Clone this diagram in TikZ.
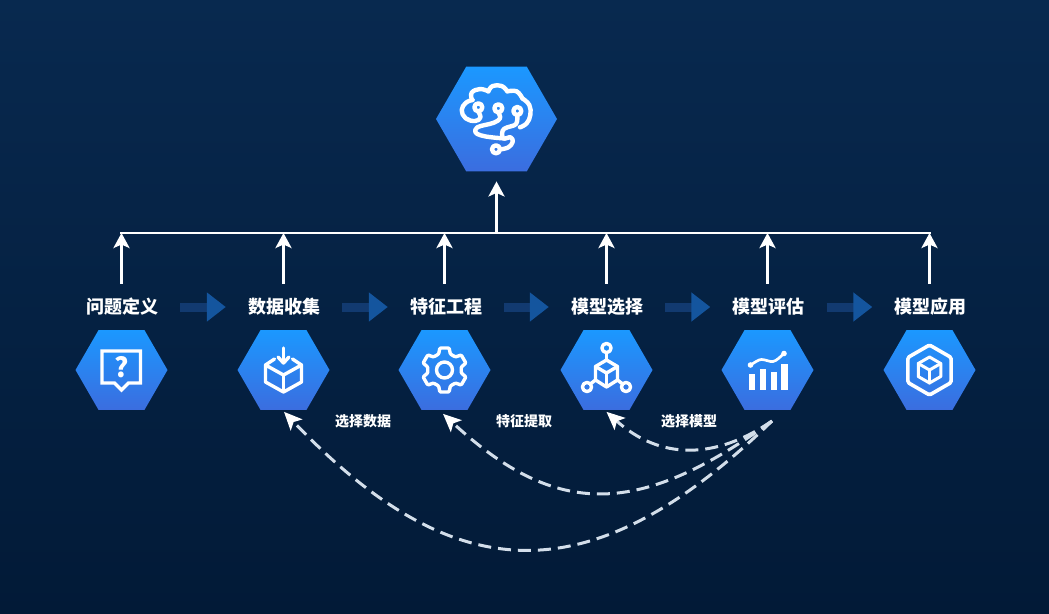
\documentclass[tikz,border=0pt]{standalone}
\usepackage{fontspec}
\usetikzlibrary{shapes.geometric,arrows.meta}
\newfontfamily\cjk{Noto Sans CJK SC}
\definecolor{bgtop}{HTML}{08294F}
\definecolor{bgbot}{HTML}{021A37}
\definecolor{hextop}{HTML}{1B98FF}
\definecolor{hexbot}{HTML}{3B6DDF}
\definecolor{shaft}{HTML}{123A70}
\definecolor{blockhead}{HTML}{14559E}
\definecolor{dashc}{HTML}{D3DEEA}
\tikzset{
  x=1pt,y=-1pt,
  hexnode/.style={regular polygon,regular polygon sides=6,inner sep=0pt,outer sep=0pt,top color=hextop,bottom color=hexbot,draw=none,minimum size=#1},
  steplabel/.style={text=white,font=\cjk\bfseries\fontsize{18}{20}\selectfont,inner sep=0pt,minimum height=46pt},
  smalllabel/.style={text=white,font=\cjk\bfseries\fontsize{14}{16}\selectfont,inner sep=0pt},
  whiteline/.style={draw=white,line width=3pt},
  busline/.style={draw=white,line width=2.2pt},
  uparrow/.style={whiteline,-{Stealth[length=15pt,width=16pt,inset=3.5pt]}},
  blockarrow/.style={draw=shaft,line width=9pt,shorten <=22pt,shorten >=22pt,-{Triangle[length=19pt,width=28pt,color=blockhead]}},
  feedback/.style={draw=dashc,line width=3pt,dash pattern=on 13pt off 7pt,-{Stealth[length=18pt,width=16pt,inset=4pt,color=white]}},
  icon/.style={draw=white,line width=3.4pt,line join=round,line cap=round},
  brain/.style={draw=white,line width=4.4pt,line join=round,line cap=round},
}
\begin{document}
\begin{tikzpicture}
\useasboundingbox (0,0) rectangle (1049,613);
\shade[top color=bgtop,bottom color=bgbot] (0,0) rectangle (1049,613);
% hexagons
\node[hexnode=121] (h0) at (496.5,119) {};
\node[hexnode=92] (h1) at (121.5,370) {};
\node[hexnode=92] (h2) at (283.5,370) {};
\node[hexnode=92] (h3) at (444.5,370) {};
\node[hexnode=92] (h4) at (606.5,370) {};
\node[hexnode=92] (h5) at (767.5,370) {};
\node[hexnode=92] (h6) at (929.5,370) {};
% labels
\node[steplabel] (l1) at (122,307) {问题定义};
\node[steplabel] (l2) at (284,307) {数据收集};
\node[steplabel] (l3) at (446,307) {特征工程};
\node[steplabel] (l4) at (607,307) {模型选择};
\node[steplabel] (l5) at (768.5,307) {模型评估};
\node[steplabel] (l6) at (930.5,307) {模型应用};
\node[smalllabel] (s1) at (363,421) {选择数据};
\node[smalllabel] (s2) at (524,421) {特征提取};
\node[smalllabel] (s3) at (689,421) {选择模型};
% block arrows
\draw[blockarrow] (l1.east) -- (l2.west);
\draw[blockarrow] (l2.east) -- (l3.west);
\draw[blockarrow] (l3.east) -- (l4.west);
\draw[blockarrow] (l4.east) -- (l5.west);
\draw[blockarrow] (l5.east) -- (l6.west);
% bus
\coordinate (busL) at (120,233);
\coordinate (busR) at (931,233);
\coordinate (busM) at (496.5,233);
\draw[busline] (busL) -- (busR);
\draw[uparrow] (busM) -- ([yshift=-10pt]h0.south);
\draw[uparrow] (h1.north |- l1.north) -- (h1.north |- busL);
\draw[uparrow] (h2.north |- l2.north) -- (h2.north |- busL);
\draw[uparrow] (h3.north |- l3.north) -- (h3.north |- busL);
\draw[uparrow] (h4.north |- l4.north) -- (h4.north |- busL);
\draw[uparrow] (h5.north |- l5.north) -- (h5.north |- busL);
\draw[uparrow] (h6.north |- l6.north) -- (h6.north |- busL);
% feedback
\coordinate (fb) at (772,421);
\coordinate (t2) at ([shift={(0.5,2)}]h2.south);
\coordinate (t3) at ([shift={(-1.5,4)}]h3.south);
\coordinate (t4) at ([shift={(0,2)}]h4.south);
\draw[feedback] (fb) .. controls (715,460) and (660,460) .. (t4);
\draw[feedback] (fb) .. controls (640,516) and (558,520) .. (t3);
\draw[feedback] (fb) .. controls (590,597) and (454,590) .. (t2);
% icon 1
\begin{scope}[shift={(h1.center)}]
\draw[icon,line cap=butt,line join=miter] (-19.5,-19) -- (19,-19) -- (19,13) -- (7,13) -- (0,20) -- (-7,13) -- (-19.5,13) -- cycle;
\node[text=white,inner sep=0pt,font=\cjk\bfseries\fontsize{27}{27}\selectfont] (qm) at (0,-3) {?};
\end{scope}
% icon 2
\begin{scope}[shift={(h2.center)}]
\draw[icon] (0,22) -- (-18,12) -- (-18,-5) -- (0,5) -- (18,-5) -- (18,12) -- cycle;
\draw[icon] (0,5) -- (0,22);
\draw[icon] (-18,-5) -- (-9,-11);
\draw[icon] (18,-5) -- (9,-11);
\draw[icon] (0,-22) -- (0,-8);
\draw[icon] (-5.5,-13) -- (0,-7) -- (5.5,-13);
\end{scope}
% icon 3
\begin{scope}[shift={(h3.center)}]
\draw[icon,rounded corners=1pt] (78:22.5)
  \foreach \a in {90,150,210,270,330,30}{ -- ({\a-12}:22.5) -- ({\a+12}:22.5) -- ({\a+20}:17) -- ({\a+40}:17)} -- cycle;
\draw[icon] (0,0) circle (8);
\end{scope}
% icon 4
\begin{scope}[shift={(h4.center)}]
\draw[icon] (0,-10) -- (-11,-3.5) -- (-11,10) -- (0,17) -- (11,10) -- (11,-3.5) -- cycle;
\draw[icon] (-11,-3.5) -- (0,3) -- (11,-3.5);
\draw[icon] (0,3) -- (0,17);
\draw[icon] (0,-10) -- (0,-17);
\draw[icon] (0,-22) circle (4.6);
\draw[icon] (-11,10) -- (-15.5,13.5);
\draw[icon] (11,10) -- (15.5,13.5);
\draw[icon] (-19.5,17) circle (4.6);
\draw[icon] (19.5,17) circle (4.6);
\end{scope}
% icon 5
\begin{scope}[shift={(h5.center)}]
\fill[white] (-19,3.5) rectangle (-12.5,20);
\fill[white] (-8,-1.5) rectangle (-1.5,20);
\fill[white] (3,1.5) rectangle (9.5,20);
\fill[white] (13.5,-6.5) rectangle (20,20);
\draw[icon,line width=2.7pt] (-17,-5) .. controls (-12,-8) and (-9,-10.5) .. (-6,-10.5) .. controls (-2,-10.5) and (2,-8) .. (5.5,-8.5) .. controls (9,-9) and (13,-13.5) .. (16.5,-16.5);
\fill[white] (-17,-5) circle (2.8);
\fill[white] (16.5,-16.5) circle (2.8);
\end{scope}
% icon 6
\begin{scope}[shift={(h6.center)}]
\draw[icon,line width=3.6pt,rounded corners=1.5pt] (90:25) -- (150:25) -- (210:25) -- (270:25) -- (330:25) -- (30:25) -- cycle;
\draw[icon,line width=3pt] (90:13) -- (150:13) -- (210:13) -- (270:13) -- (330:13) -- (30:13) -- cycle;
\draw[icon,line width=3pt] (210:13) -- (0,0) -- (330:13);
\draw[icon,line width=3pt] (0,0) -- (90:13);
\end{scope}
% brain icon (drawn in 3x units about the hexagon centre)
\begin{scope}[shift={(h0.center)},x=0.3333pt,y=-0.3333pt]
\begin{scope}[shift={(-229.5,-207)}]
\draw[brain] plot[smooth,tension=0.7] coordinates {(175,185) (181,203) (165,213) (137,205) (125,180) (138,158) (158,150)};
\draw[brain] plot[smooth,tension=0.7] coordinates {(156,150) (155,128) (180,117) (205,124)};
\draw[brain] plot[smooth,tension=0.7] coordinates {(205,124) (218,108) (245,108) (262,124)};
\draw[brain] plot[smooth,tension=0.7] coordinates {(262,124) (290,124) (307,145)};
\draw[brain] plot[smooth,tension=0.7] coordinates {(307,145) (328,165) (331,195) (320,220) (300,232)};
\draw[brain] plot[smooth,tension=0.7] coordinates {(235,188) (240,205) (222,218) (195,225) (172,232) (166,246) (182,256) (215,262) (250,265)};
\draw[brain] plot[smooth,tension=0.7] coordinates {(292,196) (288,222) (262,232) (248,242) (250,265) (272,262) (278,276) (265,292) (242,298)};
\draw[brain] (175,172) circle (12);
\draw[brain] (235,175) circle (12);
\draw[brain] (292,183) circle (12);
\draw[brain] (228,298) circle (12);
\end{scope}
\end{scope}
\end{tikzpicture}
\end{document}
